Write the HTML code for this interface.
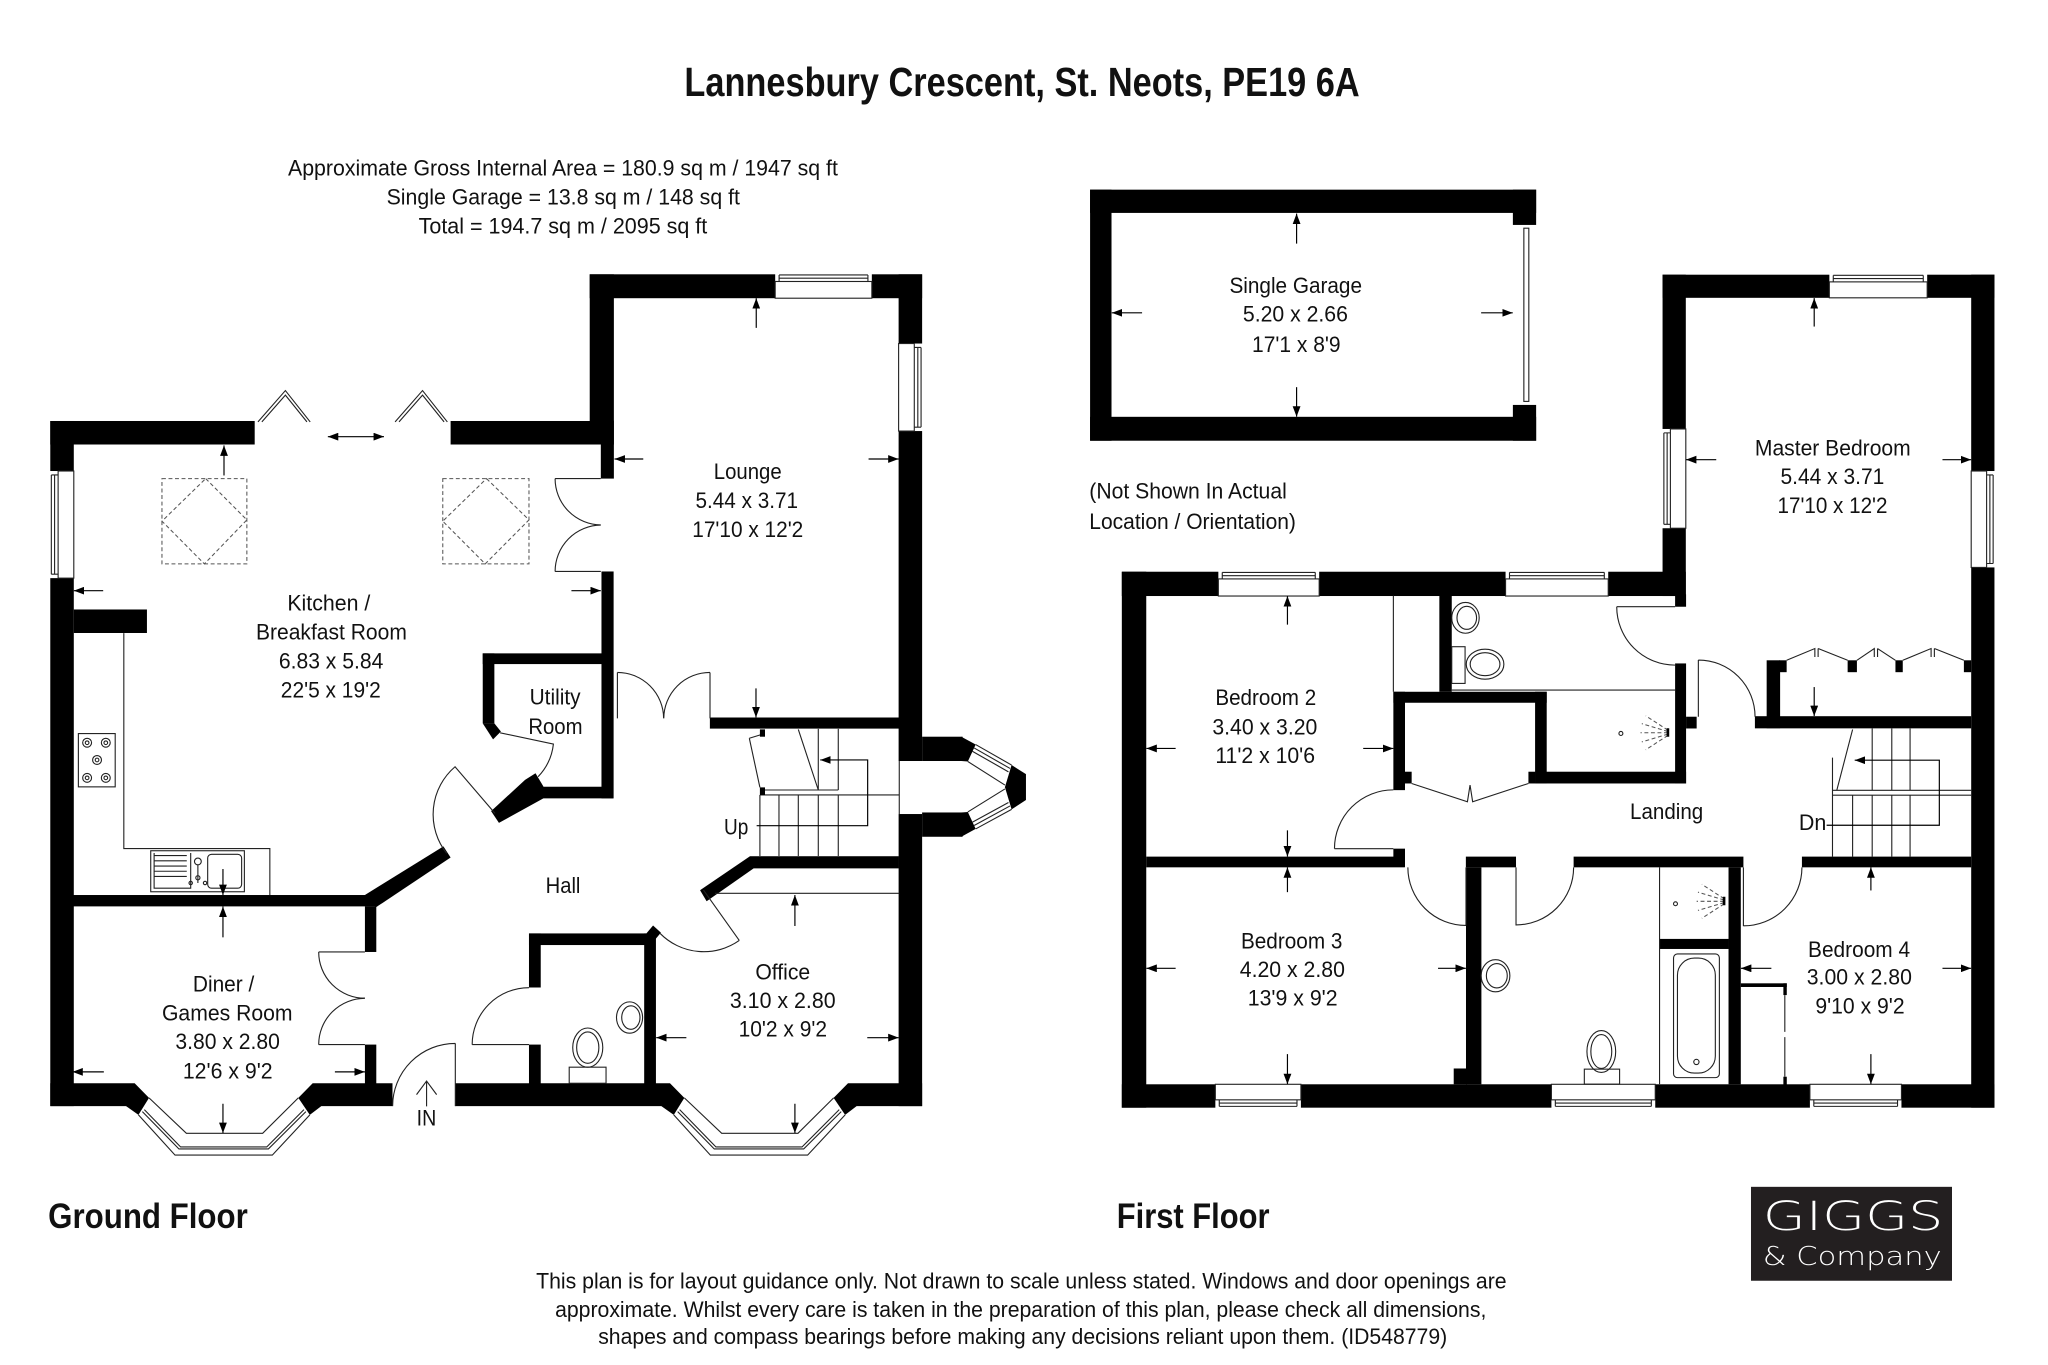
<!DOCTYPE html>
<html><head><meta charset="utf-8"><style>
html,body{margin:0;padding:0;background:#fff;}
svg{display:block;}
.t{font-family:"Liberation Sans Narrow","Liberation Sans",Arial,sans-serif;font-size:17px;fill:#111;}
.b{font-family:"Liberation Sans Narrow","Liberation Sans",Arial,sans-serif;font-weight:bold;fill:#111;}
.lg{font-family:"DejaVu Sans ExtraLight","DejaVu Sans","Liberation Sans",sans-serif;font-weight:200;fill:#fff;}
.ln{fill:none;stroke:#222;stroke-width:0.85;}
.ar{fill:none;stroke:#000;stroke-width:0.9;}
.wh{fill:#fff;stroke:#222;stroke-width:0.85;}
.er{fill:#fff;}
.ds{fill:none;stroke:#555;stroke-width:0.8;stroke-dasharray:3 2;}
</style></head><body>
<svg width="2048" height="1365" viewBox="0 0 1568 1045" preserveAspectRatio="none" xmlns="http://www.w3.org/2000/svg">
<defs>
<marker id="ah" viewBox="0 0 8 6" refX="8" refY="3" markerWidth="8" markerHeight="6" markerUnits="userSpaceOnUse" orient="auto-start-reverse"><path d="M0,0L8,3L0,6z" fill="#000"/></marker>
</defs>
<rect width="1568" height="1045" fill="#fff"/>

<!-- ===== HEADINGS ===== -->
<text class="b" x="524" y="73.5" font-size="31" textLength="517" lengthAdjust="spacingAndGlyphs">Lannesbury Crescent, St. Neots, PE19 6A</text>
<text class="t" x="220.5" y="134.2" textLength="421" lengthAdjust="spacingAndGlyphs">Approximate Gross Internal Area = 180.9 sq m / 1947 sq ft</text>
<text class="t" x="296" y="156.4" textLength="270.5" lengthAdjust="spacingAndGlyphs">Single Garage = 13.8 sq m / 148 sq ft</text>
<text class="t" x="320.5" y="178.6" textLength="221" lengthAdjust="spacingAndGlyphs">Total = 194.7 sq m / 2095 sq ft</text>

<text class="b" x="36.9" y="940.2" font-size="27" textLength="152.8" lengthAdjust="spacingAndGlyphs">Ground Floor</text>
<text class="b" x="855" y="940.2" font-size="27" textLength="117" lengthAdjust="spacingAndGlyphs">First Floor</text>

<text class="t" x="410.5" y="986.5" textLength="743" lengthAdjust="spacingAndGlyphs">This plan is for layout guidance only. Not drawn to scale unless stated. Windows and door openings are</text>
<text class="t" x="425" y="1008.2" textLength="713" lengthAdjust="spacingAndGlyphs">approximate. Whilst every care is taken in the preparation of this plan, please check all dimensions,</text>
<text class="t" x="458" y="1029.1" textLength="650" lengthAdjust="spacingAndGlyphs">shapes and compass bearings before making any decisions reliant upon them. (ID548779)</text>

<!-- logo -->
<rect x="1340.6" y="908.6" width="153.9" height="71.9" fill="#231f20"/>
<text class="lg" x="1349.6" y="941.7" font-size="31" textLength="138.3" lengthAdjust="spacingAndGlyphs">GIGGS</text>
<text class="lg" x="1349.6" y="968.5" font-size="19.5" textLength="137" lengthAdjust="spacingAndGlyphs">&amp; Company</text>

<!-- ===== GROUND FLOOR WALLS ===== -->
<g fill="#000">
<rect x="451.5" y="210" width="254.5" height="18.3"/>
<rect x="451.5" y="210" width="18.5" height="130.3"/>
<rect x="460" y="322" width="10" height="44.4"/>
<rect x="460.5" y="437.5" width="9.3" height="173.7"/>
<rect x="688" y="210" width="18" height="372.6"/>
<rect x="688" y="623.2" width="18" height="223.6"/>
<rect x="543.5" y="549.3" width="145" height="8.5"/>
<rect x="38.5" y="322.3" width="156.5" height="18"/>
<rect x="345" y="322.3" width="115" height="18"/>
<rect x="38.5" y="322.3" width="18" height="524.5"/>
<rect x="56.5" y="466.6" width="56" height="18"/>
<rect x="55" y="685.2" width="234" height="8.7"/>
<polygon points="278,686 288,694.5 345,656.5 339.5,648"/>
<rect x="279.4" y="693.9" width="8.7" height="34.9"/>
<rect x="279.4" y="799.7" width="8.7" height="30"/>
<!-- bottom wall + bay ends (diner) -->
<polygon points="38.5,829.3 103.1,829.3 114.1,840.5 106,853.5 96.5,846.8 38.5,846.8"/>
<polygon points="239.4,829.3 300.5,829.3 300.5,846.8 246,846.8 237.2,853.5 228.4,840.5"/>
<!-- bottom wall + bay ends (office) -->
<polygon points="348.6,829.3 512.95,829.3 523.95,840.5 515.85,853.5 506.35,846.8 348.6,846.8"/>
<polygon points="649.25,829.3 706,829.3 706,846.8 655.85,846.8 647.05,853.5 638.25,840.5"/>
<!-- utility -->
<rect x="369.6" y="500.2" width="100" height="8.2"/>
<rect x="369.6" y="500.2" width="8.9" height="53.6"/>
<polygon points="369.6,553.8 378.5,553.8 383.5,560 377.5,566"/>
<rect x="410" y="602.3" width="59.6" height="8.9"/>
<polygon points="402,597 410,592 416,602 416,611.2 382,630 376,621"/>
<!-- office top -->
<rect x="574.2" y="655.5" width="114" height="9.3"/>
<polygon points="574.2,655.5 577,664.8 541,690 536,681.5"/>
<!-- WC -->
<rect x="405" y="714.6" width="95.3" height="8.9"/>
<rect x="405" y="714.6" width="9" height="41.4"/>
<rect x="405" y="799.7" width="9" height="30"/>
<rect x="493.2" y="714.6" width="9" height="115"/>
<polygon points="500,708.5 506,714 501,720 495,714.5"/>
<!-- porch bay -->
<rect x="706" y="564" width="31" height="18.6"/>
<rect x="706" y="622" width="31" height="18.6"/>
<polygon points="736,564 747,570 741,583 736,582.6"/>
<polygon points="736,640.6 747,634.6 741,621.6 736,622"/>
<polygon points="774.5,585.7 785.5,592.6 785.5,612.5 774.5,619.6 769.4,602.6"/>
</g>

<!-- porch bay windows & lines -->
<g class="ln">
<path d="M747,570L774.5,585.7M745.8,572.6L773.3,588.3M744.6,575.2L772.1,590.9M741,583L769.4,601"/>
<path d="M747,634.6L774.5,619.6M745.8,632L773.3,617M744.6,629.4L772.1,614.4M741,621.6L769.4,604"/>
<path d="M688.5,582.6V623.2"/>
</g>

<!-- GF windows -->
<rect class="er" x="593.5" y="209.5" width="74" height="19.3"/>
<rect class="wh" x="593.5" y="215.5" width="74" height="12.8"/>
<path class="ln" d="M596.5,210.5H664.5M596.5,213H664.5M596.5,210.5V215.5M664.5,210.5V215.5"/>

<rect class="er" x="687.5" y="263" width="19" height="67"/>
<rect class="wh" x="688" y="263" width="12" height="67"/>
<path class="ln" d="M705.2,266V327M702.7,266V327M700,266H705.2M700,327H705.2"/>

<rect class="er" x="38" y="360.6" width="19" height="82"/>
<rect class="wh" x="44.5" y="360.6" width="12" height="82"/>
<path class="ln" d="M39.3,363.6V439.6M41.8,363.6V439.6M39.3,363.6H44.5M39.3,439.6H44.5"/>

<!-- bay windows diner/office -->
<g class="ln">
<path d="M114.1,840.5L142.7,867.6H201.1L228.4,840.5"/>
<path d="M106,853.5L134,884.3H208.5L237.2,853.5"/>
<path d="M109,851L137,879.6H205.5L234.2,851"/>
<path d="M110.5,849.5L138.3,878.1H204.2L232.7,849.5"/>
<path d="M523.95,840.5L552.55,867.6H610.95L638.25,840.5"/>
<path d="M515.85,853.5L543.85,884.3H618.35L647.05,853.5"/>
<path d="M518.85,851L546.85,879.6H615.35L644.05,851"/>
<path d="M520.35,849.5L548.15,878.1H614.05L642.55,849.5"/>
</g>

<!-- kitchen details -->
<g class="ln">
<path d="M94.8,484.7V649.6H206.6V685.2"/>
<rect x="60" y="561.6" width="28.2" height="40.8"/>
<circle cx="66.7" cy="568.6" r="3.4"/><circle cx="66.7" cy="568.6" r="1.4"/>
<circle cx="81" cy="568.6" r="3.4"/><circle cx="81" cy="568.6" r="1.4"/>
<circle cx="74.3" cy="581.8" r="3.4"/><circle cx="74.3" cy="581.8" r="1.4"/>
<circle cx="66.7" cy="595.5" r="3.4"/><circle cx="66.7" cy="595.5" r="1.4"/>
<circle cx="81" cy="595.5" r="3.4"/><circle cx="81" cy="595.5" r="1.4"/>
<rect x="115.4" y="651.3" width="71.7" height="31.4"/>
<path d="M118,655H143M118,659H143M118,663H143M118,667H143M118,671H143M118,653V680H146V653"/>
<rect x="159" y="654" width="26" height="26" rx="3"/>
<circle cx="151.5" cy="659.5" r="2.6"/><circle cx="151.5" cy="672" r="1.6"/><circle cx="146" cy="676" r="1.3"/><circle cx="157" cy="676" r="1.3"/>
<path d="M151.5,662V676"/>
<!-- bifolds -->
<path d="M197.5,323L218.5,299L237.5,323M200.5,323L218.5,302.5L235,323"/>
<path d="M302.5,323L323.5,299L342.5,323M305.5,323L323.5,302.5L340,323"/>
</g>
<g class="ds">
<rect x="124" y="366.4" width="65" height="65.3"/>
<path d="M157.5,366.4L189,398L156.5,431.7L124,399Z"/>
<rect x="339" y="366.4" width="66" height="65.3"/>
<path d="M372.5,366.4L405,398L371.5,431.7L339,399Z"/>
</g>

<!-- GF doors -->
<g class="ln">
<path d="M425,366.4H460M425,437.5H460"/>
<path d="M425,366.4A35.5,35.5 0 0 0 460,401.9M425,437.5A35.5,35.5 0 0 1 460,402"/>
<path d="M472.7,514.8V550M543.6,514.8V550"/>
<path d="M472.7,514.8A35.4,35.4 0 0 1 508.1,550M543.6,514.8A35.4,35.4 0 0 0 508.2,550"/>
<path d="M382.9,561L423.7,569.6A43,43 0 0 1 412,594.6"/>
<path d="M379,622.7L348.4,587A48,48 0 0 0 342,653.3"/>
<path d="M538.6,681.4L566,720M505.4,714.6A47,47 0 0 0 566,720"/>
<path d="M361.5,799.7H405M361.5,799.7A43.6,43.6 0 0 1 405,756.1"/>
<path d="M244,728.8H279.4M244,799.7H279.4"/>
<path d="M244,728.8A35.4,35.4 0 0 0 279.4,764.2M244,799.7A35.4,35.4 0 0 1 279.4,764.3"/>
<path d="M348.6,798.8V846.8M300.6,846.8A48,48 0 0 1 348.6,798.8"/>
<!-- GF stairs -->
<path d="M581.8,608.6H688.5M584.4,604.8H641.8"/>
<path d="M581.8,608.6V655.3M596.4,608.6V655.3M611.2,608.6V655.3M626.5,608.6V655.3M641.8,608.6V655.3"/>
<path d="M626.5,558V604.8M641.8,558V604.8M611.2,558.4L626.5,604.8M573.7,565.2L581.8,602.8M573.7,565.2L584,562"/>
<path d="M547.4,683.9H688.5"/>
<!-- WC fittings -->
<ellipse cx="450" cy="802" rx="11.5" ry="15"/>
<ellipse cx="450" cy="802" rx="8.5" ry="12"/>
<rect x="435.8" y="817" width="28.2" height="12.3"/>
<ellipse cx="482" cy="779" rx="10" ry="12"/>
<ellipse cx="483" cy="779" rx="7" ry="9"/>
</g>
<rect x="581.8" y="558.4" width="3.9" height="5.6" fill="#000"/>
<rect x="581.8" y="602.8" width="3.9" height="5.8" fill="#000"/>
<path class="ar" d="M579.3,632.1H664.3V581.8H628" marker-end="url(#ah)"/>
<!-- IN arrow -->
<path class="ln" d="M326.6,847V828M318.9,838L326.6,827.6L334.3,838"/>

<!-- GF dimension arrows -->
<g class="ar">
<path d="M171.5,364V341" marker-end="url(#ah)"/>
<path d="M251,334.3H294" marker-start="url(#ah)" marker-end="url(#ah)"/>
<path d="M492.5,351.4H470.5" marker-end="url(#ah)"/>
<path d="M665,351.4H688" marker-end="url(#ah)"/>
<path d="M579,251V228.3" marker-end="url(#ah)"/>
<path d="M578.8,527V549.2" marker-end="url(#ah)"/>
<path d="M79,452.2H56.5" marker-end="url(#ah)"/>
<path d="M437.5,452.2H460" marker-end="url(#ah)"/>
<path d="M170.7,665.3V685.2" marker-end="url(#ah)"/>
<path d="M170.7,717.6V694" marker-end="url(#ah)"/>
<path d="M79.5,820.6H55.4" marker-end="url(#ah)"/>
<path d="M256.4,820.6H279.4" marker-end="url(#ah)"/>
<path d="M170.7,845V867.4" marker-end="url(#ah)"/>
<path d="M525.5,794.4H502.4" marker-end="url(#ah)"/>
<path d="M664,794.4H688" marker-end="url(#ah)"/>
<path d="M608.6,708.9V685.2" marker-end="url(#ah)"/>
<path d="M608.6,845V867.4" marker-end="url(#ah)"/>
</g>

<!-- GF labels -->
<g class="t">
<text x="546.5" y="366.6" textLength="52" lengthAdjust="spacingAndGlyphs">Lounge</text>
<text x="532.5" y="388.8" textLength="78.5" lengthAdjust="spacingAndGlyphs">5.44 x 3.71</text>
<text x="530" y="411" textLength="85" lengthAdjust="spacingAndGlyphs">17'10 x 12'2</text>
<text x="220" y="467.4" textLength="63.5" lengthAdjust="spacingAndGlyphs">Kitchen /</text>
<text x="196" y="489.6" textLength="115.5" lengthAdjust="spacingAndGlyphs">Breakfast Room</text>
<text x="213.5" y="511.9" textLength="80" lengthAdjust="spacingAndGlyphs">6.83 x 5.84</text>
<text x="215" y="534" textLength="76.5" lengthAdjust="spacingAndGlyphs">22'5 x 19'2</text>
<text x="405.5" y="539.3" textLength="39" lengthAdjust="spacingAndGlyphs">Utility</text>
<text x="404.5" y="561.8" textLength="41.5" lengthAdjust="spacingAndGlyphs">Room</text>
<text x="417.8" y="683.6" textLength="26.6" lengthAdjust="spacingAndGlyphs">Hall</text>
<text x="554.3" y="638.9" textLength="18.6" lengthAdjust="spacingAndGlyphs">Up</text>
<text x="147.7" y="759.2" textLength="47" lengthAdjust="spacingAndGlyphs">Diner /</text>
<text x="124" y="781.2" textLength="100" lengthAdjust="spacingAndGlyphs">Games Room</text>
<text x="134.3" y="803.2" textLength="80" lengthAdjust="spacingAndGlyphs">3.80 x 2.80</text>
<text x="140" y="825.6" textLength="68.7" lengthAdjust="spacingAndGlyphs">12'6 x 9'2</text>
<text x="578.3" y="749.8" textLength="42" lengthAdjust="spacingAndGlyphs">Office</text>
<text x="558.8" y="771.8" textLength="81" lengthAdjust="spacingAndGlyphs">3.10 x 2.80</text>
<text x="565.5" y="793.5" textLength="67.7" lengthAdjust="spacingAndGlyphs">10'2 x 9'2</text>
<text x="319" y="861.5" textLength="15" lengthAdjust="spacingAndGlyphs">IN</text>
</g>

<!-- ===== FIRST FLOOR ===== -->
<g fill="#000">
<!-- garage -->
<rect x="834.6" y="145.2" width="341.5" height="17.8"/>
<rect x="834.6" y="319.1" width="341.5" height="18.3"/>
<rect x="834.6" y="145.2" width="16.4" height="192.2"/>
<rect x="1158.3" y="145.2" width="17.8" height="27"/>
<rect x="1158.3" y="310" width="17.8" height="27.4"/>
<!-- master -->
<rect x="1272.9" y="210.3" width="254.1" height="17.7"/>
<rect x="1272.9" y="210.3" width="17.8" height="246"/>
<rect x="1282.5" y="455" width="8.4" height="9.5"/>
<rect x="1509.2" y="210.3" width="17.8" height="637.7"/>
<rect x="1352.6" y="505.5" width="10.3" height="52"/>
<rect x="1362.3" y="505.5" width="5.6" height="9.1"/>
<rect x="1414.6" y="505.5" width="7.1" height="9.1"/>
<rect x="1451.2" y="505.5" width="5.6" height="9.1"/>
<rect x="1503.6" y="505.5" width="5.6" height="9.1"/>
<rect x="1343.6" y="548.3" width="165.6" height="9.3"/>
<!-- main block -->
<rect x="858.9" y="437.7" width="431.8" height="18.6"/>
<rect x="858.9" y="437.7" width="18.7" height="410.3"/>
<rect x="858.9" y="830.1" width="668.1" height="17.9"/>
<rect x="877.6" y="655.8" width="198" height="8.2"/>
<rect x="1122.3" y="655.8" width="38.4" height="8.2"/>
<rect x="1204.8" y="655.8" width="130" height="8.2"/>
<rect x="1379.6" y="655.8" width="129.6" height="8.2"/>
<rect x="1066.8" y="529.6" width="8.9" height="75.3"/>
<rect x="1066.8" y="649.7" width="8.9" height="14"/>
<rect x="1075.7" y="590.8" width="5.1" height="9"/>
<rect x="1066.8" y="529.6" width="117.4" height="8.4"/>
<rect x="1175.3" y="529.6" width="8.9" height="70.2"/>
<rect x="1170.2" y="590.8" width="5.1" height="9"/>
<rect x="1175.3" y="590.8" width="115.6" height="9"/>
<rect x="1282.5" y="507.9" width="8.4" height="91.9"/>
<rect x="1290.9" y="548.7" width="8.1" height="9"/>
<rect x="1102" y="455.6" width="9.5" height="74"/>
<rect x="1122.4" y="664" width="11.8" height="166.1"/>
<rect x="1323.4" y="664" width="9.4" height="166.1"/>
<rect x="1270.6" y="718.8" width="52.8" height="7.7"/>
<rect x="1113" y="818" width="10" height="12.1"/>
<rect x="1332.8" y="752.8" width="35.2" height="2.8"/>
<rect x="1365.4" y="752.8" width="2.6" height="9"/>
<rect x="1365.4" y="824.3" width="2.6" height="6"/>
</g>

<!-- garage door -->
<rect class="wh" x="1166.7" y="174.7" width="3.8" height="132.6"/>

<!-- FF windows -->
<rect class="er" x="1400.6" y="209.8" width="74.9" height="18.7"/>
<rect class="wh" x="1400.6" y="215.8" width="74.9" height="12.2"/>
<path class="ln" d="M1403.6,210.8H1472.5M1403.6,213.3H1472.5M1403.6,210.8V215.8M1472.5,210.8V215.8"/>

<rect class="er" x="932.8" y="437.2" width="77.2" height="19.6"/>
<rect class="wh" x="932.8" y="443.2" width="77.2" height="13.1"/>
<path class="ln" d="M935.8,438.2H1007M935.8,440.7H1007M935.8,438.2V443.2M1007,438.2V443.2"/>

<rect class="er" x="1152.7" y="437.2" width="78.6" height="19.6"/>
<rect class="wh" x="1152.7" y="443.2" width="78.6" height="13.1"/>
<path class="ln" d="M1155.7,438.2H1228.3M1155.7,440.7H1228.3M1155.7,438.2V443.2M1228.3,438.2V443.2"/>

<rect class="er" x="1272.4" y="328.4" width="18.8" height="76"/>
<rect class="wh" x="1278.9" y="328.4" width="11.8" height="76"/>
<path class="ln" d="M1273.9,331.4V401.4M1276.4,331.4V401.4M1273.9,331.4H1278.9M1273.9,401.4H1278.9"/>

<rect class="er" x="1508.7" y="360.6" width="18.8" height="73.8"/>
<rect class="wh" x="1509.2" y="360.6" width="11.8" height="73.8"/>
<path class="ln" d="M1526,363.6V431.4M1523.5,363.6V431.4M1521,363.6H1526M1521,431.4H1526"/>

<rect class="er" x="930.5" y="829.6" width="65.5" height="18.9"/>
<rect class="wh" x="930.5" y="830.1" width="65.5" height="11.9"/>
<path class="ln" d="M933.5,847H993M933.5,844.5H993M933.5,842V847M993,842V847"/>

<rect class="er" x="1187.8" y="829.6" width="79.5" height="18.9"/>
<rect class="wh" x="1187.8" y="830.1" width="79.5" height="11.9"/>
<path class="ln" d="M1190.8,847H1264.3M1190.8,844.5H1264.3M1190.8,842V847M1264.3,842V847"/>

<rect class="er" x="1385.7" y="829.6" width="70.1" height="18.9"/>
<rect class="wh" x="1385.7" y="830.1" width="70.1" height="11.9"/>
<path class="ln" d="M1388.7,847H1452.8M1388.7,844.5H1452.8M1388.7,842V847M1452.8,842V847"/>

<!-- FF thin lines, doors, fittings -->
<g class="ln">
<path d="M1066.8,456V529.6M1111.5,528.3H1282.5M1270.6,664V830M1366.5,761.8V790M1366.5,794V824.3"/>
<!-- doors -->
<path d="M1237.8,464.5H1282.5M1237.8,464.5A44.7,44.7 0 0 0 1282.5,509.2"/>
<path d="M1300.3,505.3V548.7M1300.3,505.3A43.4,43.4 0 0 1 1343.7,548.7"/>
<path d="M1021.7,649.7H1066.8M1021.7,649.7A45,45 0 0 1 1066.8,604.7"/>
<path d="M1080.8,599.8L1123.5,613.8L1125.5,601L1127.5,613.8L1170.2,599.8"/>
<path d="M1122.4,664V708.5M1077.9,664A44.5,44.5 0 0 0 1122.4,708.5"/>
<path d="M1160.7,664V708.5M1204.8,664A44.1,44.1 0 0 1 1160.7,708.1"/>
<path d="M1334.8,664V709M1379.6,664A44.8,44.8 0 0 1 1334.8,708.8"/>
<!-- wardrobe bifolds -->
<path d="M1367.9,505.5L1389.5,496.5V503M1392,496.5V503M1392,496.5L1414.6,505.5"/>
<path d="M1421.7,505.5L1435,496.5V503M1437.5,496.5V503M1437.5,496.5L1451.2,505.5"/>
<path d="M1456.8,505.5L1478.5,496.5V503M1481,496.5V503M1481,496.5L1503.6,505.5"/>
<!-- FF stairs -->
<path d="M1403,605H1509.2M1403,608.8H1509.2"/>
<path d="M1403,580V655.8M1418.4,608.8V655.8M1433.4,608.8V655.8M1448.4,608.8V655.8M1462.4,608.8V655.8"/>
<path d="M1433.4,557.7V605M1448.4,557.7V605M1462.4,557.7V605M1418.4,558.5L1406.3,605"/>
<!-- ensuite -->
<ellipse cx="1122" cy="473" rx="10.5" ry="11.8"/>
<ellipse cx="1123" cy="473" rx="7.5" ry="8.8"/>
<rect x="1111.5" y="495.1" width="10.2" height="28.1"/>
<ellipse cx="1137" cy="508.5" rx="14.4" ry="11.5"/>
<ellipse cx="1137" cy="508.5" rx="11.4" ry="8.8"/>
<!-- bathroom -->
<rect x="1281.3" y="730.3" width="35.1" height="94.7" rx="3"/>
<rect x="1284.3" y="733.5" width="29" height="88" rx="13"/>
<circle cx="1298.8" cy="813" r="2"/>
<ellipse cx="1226" cy="805" rx="11" ry="16"/>
<ellipse cx="1226" cy="805" rx="8" ry="13"/>
<rect x="1213" y="818.5" width="27" height="11.5"/>
<ellipse cx="1145" cy="747" rx="11" ry="12.3"/>
<ellipse cx="1146" cy="747" rx="8" ry="9.3"/>
<circle cx="1241" cy="561.5" r="1.5"/>
<circle cx="1282.8" cy="691.9" r="1.5"/>
</g>
<g class="ds" stroke-dasharray="2 1.5">
<path d="M1277,559L1260,548M1277,560L1257,554M1277,561L1256,561M1277,562L1257,568M1277,563L1260,574"/>
<path d="M1320,688L1303,677M1320,689L1300,683M1320,690L1299,690M1320,691L1300,697M1320,692L1303,703"/>
</g>
<path d="M1277,557.5V564M1320,686.5V693" stroke="#000" stroke-width="2"/>

<path class="ar" d="M1398.5,631.8H1484.8V582H1420" marker-end="url(#ah)"/>

<!-- FF dimension arrows -->
<g class="ar">
<path d="M992.7,186.5V163.5" marker-end="url(#ah)"/>
<path d="M992.7,296.4V319" marker-end="url(#ah)"/>
<path d="M874.4,239.5H851.2" marker-end="url(#ah)"/>
<path d="M1134,239.5H1158.2" marker-end="url(#ah)"/>
<path d="M1389,250V228.2" marker-end="url(#ah)"/>
<path d="M1314,351.9H1290.8" marker-end="url(#ah)"/>
<path d="M1487.2,351.9H1509.2" marker-end="url(#ah)"/>
<path d="M1389,526V548.2" marker-end="url(#ah)"/>
<path d="M985.7,478.2V456.4" marker-end="url(#ah)"/>
<path d="M900.1,573H877.7" marker-end="url(#ah)"/>
<path d="M1043.7,573H1066.8" marker-end="url(#ah)"/>
<path d="M985.7,635.7V655.7" marker-end="url(#ah)"/>
<path d="M985.7,683V664" marker-end="url(#ah)"/>
<path d="M900.1,741.3H877.7" marker-end="url(#ah)"/>
<path d="M1101,741.3H1122.3" marker-end="url(#ah)"/>
<path d="M985.7,807V830" marker-end="url(#ah)"/>
<path d="M1432.4,681.7V664" marker-end="url(#ah)"/>
<path d="M1356.2,741.3H1332.9" marker-end="url(#ah)"/>
<path d="M1487.2,741.3H1509.2" marker-end="url(#ah)"/>
<path d="M1432.4,807V830" marker-end="url(#ah)"/>
</g>

<!-- FF labels -->
<g class="t">
<text x="941.3" y="224.5" textLength="101.5" lengthAdjust="spacingAndGlyphs">Single Garage</text>
<text x="951.6" y="246.3" textLength="80.4" lengthAdjust="spacingAndGlyphs">5.20 x 2.66</text>
<text x="958.6" y="269.6" textLength="67.8" lengthAdjust="spacingAndGlyphs">17'1 x 8'9</text>
<text x="834" y="381.7" textLength="151.2" lengthAdjust="spacingAndGlyphs">(Not Shown In Actual</text>
<text x="834" y="404.9" textLength="158.2" lengthAdjust="spacingAndGlyphs">Location / Orientation)</text>
<text x="1343.6" y="348.9" textLength="119.3" lengthAdjust="spacingAndGlyphs">Master Bedroom</text>
<text x="1363.2" y="370.7" textLength="79.5" lengthAdjust="spacingAndGlyphs">5.44 x 3.71</text>
<text x="1360.9" y="392.6" textLength="84.2" lengthAdjust="spacingAndGlyphs">17'10 x 12'2</text>
<text x="930.5" y="539.7" textLength="77.2" lengthAdjust="spacingAndGlyphs">Bedroom 2</text>
<text x="928.2" y="562.4" textLength="80.4" lengthAdjust="spacingAndGlyphs">3.40 x 3.20</text>
<text x="930.5" y="584.1" textLength="76.3" lengthAdjust="spacingAndGlyphs">11'2 x 10'6</text>
<text x="1248" y="627" textLength="56" lengthAdjust="spacingAndGlyphs">Landing</text>
<text x="1377.3" y="635.3" textLength="21" lengthAdjust="spacingAndGlyphs">Dn</text>
<text x="950.1" y="726" textLength="77.7" lengthAdjust="spacingAndGlyphs">Bedroom 3</text>
<text x="949.2" y="747.8" textLength="80.5" lengthAdjust="spacingAndGlyphs">4.20 x 2.80</text>
<text x="955.3" y="769.6" textLength="68.8" lengthAdjust="spacingAndGlyphs">13'9 x 9'2</text>
<text x="1384.3" y="732.5" textLength="78.1" lengthAdjust="spacingAndGlyphs">Bedroom 4</text>
<text x="1383.3" y="753.7" textLength="80.5" lengthAdjust="spacingAndGlyphs">3.00 x 2.80</text>
<text x="1389.9" y="776" textLength="68.3" lengthAdjust="spacingAndGlyphs">9'10 x 9'2</text>
</g>
</svg>
</body></html>
